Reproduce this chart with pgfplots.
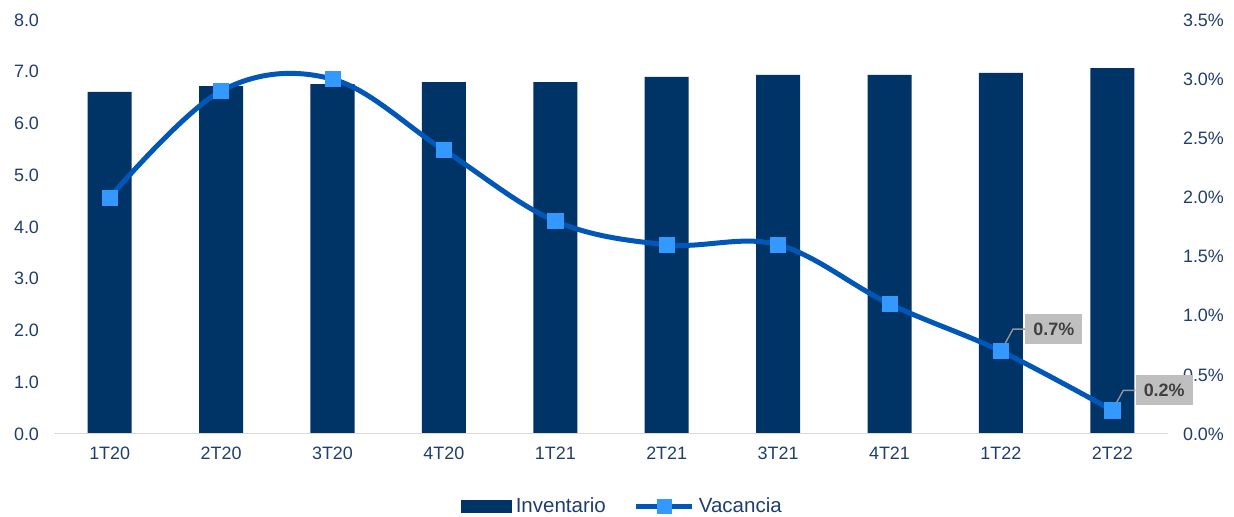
\documentclass[border=0pt]{standalone}
\usepackage{pgfplots}
\pgfplotsset{compat=1.18}
\usepackage{fontspec}
\setmainfont{Liberation Sans}
\definecolor{navy}{RGB}{0,51,102}
\definecolor{linecol}{RGB}{0,87,184}
\definecolor{mk}{RGB}{51,153,255}
\definecolor{txt}{RGB}{31,61,110}
\definecolor{lblbg}{RGB}{191,191,191}
\definecolor{lbltx}{RGB}{64,64,64}
\definecolor{axgray}{RGB}{217,217,217}
\definecolor{lead}{RGB}{150,150,150}
\pgfplotstableread{
x inv vac
0 6.61 2.0
1 6.72 2.9
2 6.76 3.0
3 6.80 2.4
4 6.80 1.8
5 6.90 1.6
6 6.94 1.6
7 6.94 1.1
8 6.98 0.7
9 7.07 0.2
}\datatable
\begin{document}
\begin{tikzpicture}
\path[use as bounding box] (0,0) rectangle (617bp,258.5bp);
\begin{axis}[
  at={(27bp,41.5bp)}, anchor=south west, scale only axis,
  width=557bp, height=207bp,
  xmin=-0.5, xmax=9.5, ymin=0, ymax=8,
  xtick={0,...,9},
  xticklabels={1T20,2T20,3T20,4T20,1T21,2T21,3T21,4T21,1T22,2T22},
  ytick={0,1,...,8},
  yticklabel={\pgfmathprintnumber[fixed,precision=1,zerofill]{\tick}},
  /pgf/number format/assume math mode=true,
  axis line style={draw=none},
  major tick length=0pt,
  tick label style={font=\fontsize{9}{11}\selectfont, text=txt},
  xticklabel style={yshift=-3bp},
  yticklabel style={xshift=-4bp},
  legend style={at={(0.511,-0.176)}, anchor=center, draw=none, fill=none,
    legend columns=2, font=\fontsize{10.3}{12}\selectfont, text=txt,
    /tikz/every even column/.append style={column sep=12bp}},
]
\addplot[ybar, bar width=22bp, fill=navy, draw=none,
  legend image code/.code={\fill[navy] (0bp,-3.2bp) rectangle (25.5bp,3.2bp);}]
  table[x=x, y=inv] {\datatable};
\addlegendentry{Inventario}
\addlegendimage{legend image code/.code={\draw[linecol, line width=2.5bp] (0bp,0bp) -- (28bp,0bp); \fill[mk] (10.5bp,-3.5bp) rectangle (17.5bp,3.5bp);}}
\addlegendentry{Vacancia}
\draw[axgray, line width=1bp] (axis cs:-0.5,0) -- (axis cs:9.5,0);
\end{axis}
\begin{axis}[
  at={(27bp,41.5bp)}, anchor=south west, scale only axis,
  width=557bp, height=207bp,
  xmin=-0.5, xmax=9.5, ymin=0, ymax=3.5,
  axis y line*=right, axis x line=none,
  axis line style={draw=none},
  clip=false,
  ytick={0,0.5,...,3.5},
  yticklabel={\pgfmathprintnumber[fixed,precision=1,zerofill]{\tick}\%},
  /pgf/number format/assume math mode=true,
  major tick length=0pt,
  yticklabel style={font=\fontsize{9}{11}\selectfont, text=txt, xshift=4bp},
]
\addplot[linecol, line width=2.5bp, smooth, tension=0.6, mark=square*,
  mark size=3.8bp, mark options={fill=mk, draw=mk, line width=0.3bp}]
  table[x=x, y=vac] {\datatable};
\draw[lead, line width=0.7bp] (axis cs:8,0.7) -- ++(6bp,11bp) -- ++(6bp,0bp);
\node[fill=lblbg, anchor=west, minimum width=28.5bp, minimum height=15bp, inner sep=0pt,
  font=\fontsize{9}{11}\selectfont\bfseries, text=lbltx]
  at ([xshift=12bp, yshift=11bp]axis cs:8,0.7) {0.7\%};
\draw[lead, line width=0.7bp] (axis cs:9,0.2) -- ++(5.5bp,10bp) -- ++(6bp,0bp);
\node[fill=lblbg, anchor=west, minimum width=28.5bp, minimum height=15bp, inner sep=0pt,
  font=\fontsize{9}{11}\selectfont\bfseries, text=lbltx]
  at ([xshift=11.5bp, yshift=10bp]axis cs:9,0.2) {0.2\%};
\end{axis}
\end{tikzpicture}
\end{document}
